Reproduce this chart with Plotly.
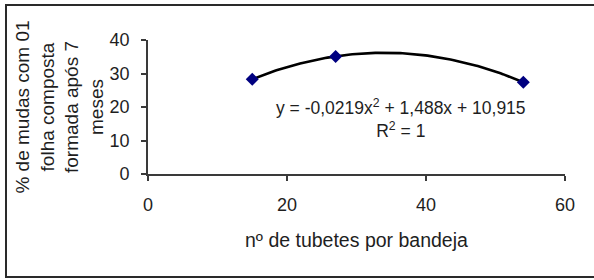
import numpy as np
import plotly.graph_objects as go

# data
tubetes = [15, 27, 54]
mudas_pct = [28.3, 35.1, 27.4]
trend_coef = [-0.0219, 1.488, 10.915]   # quadratic trendline shown on the chart
x_ticks = [0, 20, 40, 60]
y_ticks = [0, 10, 20, 30, 40]
y_title_lines = ["% de mudas com 01", "folha composta", "formada após 7", "meses"]
x_title = "nº de tubetes por bandeja"
eq_text = "y = -0,0219x<sup>2</sup> + 1,488x + 10,915<br>R<sup>2</sup> = 1"

FONT = "Liberation Sans, Arial, sans-serif"
TXT = "#1e1e1e"
AX = "#3a3a3a"

L, R, T, B = 148, 29, 40, 106
W, H = 594, 280
pw, ph = W - L - R, H - T - B

def px_x(p):
    return (p - L) / pw

def px_y(p):
    return (H - B - p) / ph

xt = np.linspace(min(tubetes), max(tubetes), 120)
yt = np.polyval(trend_coef, xt)

fig = go.Figure()
fig.add_trace(go.Scatter(x=xt, y=yt, mode="lines",
                         line=dict(color="black", width=2.6), hoverinfo="skip"))
fig.add_trace(go.Scatter(x=tubetes, y=mudas_pct, mode="markers",
                         marker=dict(symbol="diamond", size=10, color="#000080",
                                     line=dict(width=0))))

fig.update_layout(
    width=W, height=H, margin=dict(l=L, r=R, t=T, b=B, autoexpand=False),
    paper_bgcolor="white", plot_bgcolor="white", showlegend=False,
    font=dict(family=FONT, size=18, color=TXT),
    xaxis=dict(range=[0, 60], tickvals=x_ticks, showgrid=False, zeroline=False,
               showline=True, linecolor=AX, linewidth=1.6, ticks="outside",
               ticklen=5, tickwidth=1.6, tickcolor=AX, ticklabelstandoff=9),
    yaxis=dict(range=[0, 40], tickvals=y_ticks, showgrid=False, zeroline=False,
               showline=True, linecolor=AX, linewidth=1.6, ticks="outside",
               ticklen=5, tickwidth=1.6, tickcolor=AX, ticklabelstandoff=8,
               title=dict(text="<br>".join(y_title_lines), standoff=1,
                          font=dict(size=19, color=TXT))),
)

fig.add_annotation(text=x_title, xref="paper", yref="paper", x=0.5, y=px_y(240),
                   xanchor="center", yanchor="middle", showarrow=False,
                   font=dict(size=19.5, color=TXT))

fig.add_annotation(text=eq_text, xref="paper", yref="paper", x=px_x(401), y=px_y(118),
                   xanchor="center", yanchor="middle", align="center", showarrow=False,
                   font=dict(size=17.5, color=TXT))

# outer frame
fig.add_shape(type="rect", xref="paper", yref="paper",
              x0=px_x(6), x1=px_x(600), y0=px_y(277), y1=px_y(5),
              line=dict(color="#2a2a2a", width=2), layer="below")

fig.write_html("out.html", config={"displayModeBar": False},
               post_script="document.body.style.margin='0';document.body.style.padding='0';")
